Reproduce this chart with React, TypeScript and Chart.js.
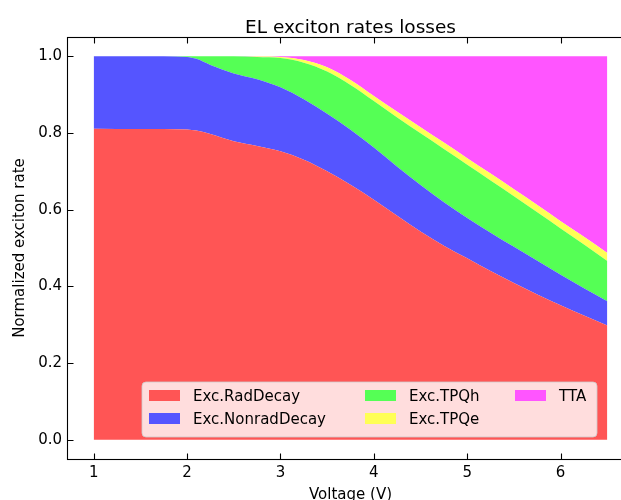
import React, { useEffect, useRef } from "react";
import { Chart, registerables } from "chart.js";

Chart.register(...registerables);

// ---- data ----
const voltage = [1, 1.5, 2, 2.1, 2.25, 2.5, 2.75, 3, 3.25, 3.5, 3.75, 4, 4.25, 4.5, 4.75, 5, 5.25, 5.5, 5.75, 6, 6.25, 6.5];
const radDecay = [0.811, 0.81, 0.809, 0.806, 0.797, 0.778, 0.766, 0.752, 0.73, 0.7, 0.665, 0.626, 0.584, 0.543, 0.506, 0.473, 0.44, 0.409, 0.379, 0.351, 0.324, 0.298];
const nonradDecay = [0.189, 0.19, 0.189, 0.187, 0.18, 0.177, 0.174, 0.167, 0.158, 0.15, 0.143, 0.136, 0.128, 0.121, 0.113, 0.105, 0.1, 0.094, 0.088, 0.079, 0.071, 0.063];
const tpqh = [0, 0, 0.002, 0.007, 0.023, 0.045, 0.058, 0.076, 0.095, 0.11, 0.117, 0.121, 0.128, 0.135, 0.139, 0.139, 0.136, 0.132, 0.126, 0.121, 0.114, 0.105];
const tpqe = [0, 0, 0, 0, 0, 0, 0.001, 0.003, 0.007, 0.011, 0.013, 0.013, 0.015, 0.016, 0.017, 0.017, 0.018, 0.018, 0.019, 0.019, 0.02, 0.021];
const tta = [0, 0, 0, 0, 0, 0, 0.001, 0.002, 0.01, 0.029, 0.062, 0.104, 0.145, 0.185, 0.225, 0.266, 0.306, 0.347, 0.388, 0.43, 0.471, 0.513];

const seriesNames = ["Exc.RadDecay", "Exc.NonradDecay", "Exc.TPQh", "Exc.TPQe", "TTA"];
const seriesColors = ["#ff5555", "#5555ff", "#55ff55", "#ffff55", "#ff55ff"];

const xTicks = [1, 2, 3, 4, 5, 6];
const xTickLabels = ["1", "2", "3", "4", "5", "6"];
const yTicks = [0, 0.2, 0.4, 0.6, 0.8, 1.0];
const yTickLabels = ["0.0", "0.2", "0.4", "0.6", "0.8", "1.0"];

const titleText = "EL exciton rates losses";
const xLabelText = "Voltage (V)";
const yLabelText = "Normalized exciton rate";

const FONT = "'DejaVu Sans', sans-serif";

const decorPlugin = {
  id: "decor",
  afterDraw(chart: any) {
    const { ctx, chartArea, scales } = chart;
    const { left, right, top, bottom } = chartArea;
    const xs = scales.x;
    const ys = scales.y;
    ctx.save();
    // spines
    ctx.strokeStyle = "#000";
    ctx.lineWidth = 1.1;
    ctx.strokeRect(left - 0.5, top + 0.5, right - left + 1, bottom - top);
    // inward ticks
    ctx.beginPath();
    xTicks.forEach((v) => {
      const px = Math.round(xs.getPixelForValue(v)) + 0.5;
      ctx.moveTo(px, bottom + 0.5);
      ctx.lineTo(px, bottom + 0.5 - 6);
      ctx.moveTo(px, top + 0.5);
      ctx.lineTo(px, top + 0.5 + 6);
    });
    yTicks.forEach((v) => {
      const py = Math.round(ys.getPixelForValue(v)) + 0.5;
      ctx.moveTo(left - 0.5, py);
      ctx.lineTo(left - 0.5 + 6, py);
      ctx.moveTo(right, py);
      ctx.lineTo(right - 6, py);
    });
    ctx.stroke();

    // title
    ctx.fillStyle = "#000";
    ctx.font = `18.5px ${FONT}`;
    ctx.textAlign = "center";
    ctx.textBaseline = "alphabetic";
    ctx.fillText(titleText, (left + right) / 2, 33);

    // x label (partly cut off by the bottom edge, as in the reference)
    ctx.font = `15px ${FONT}`;
    ctx.textBaseline = "top";
    ctx.fillText(xLabelText, (left + right) / 2, 488);

    // y label
    ctx.save();
    ctx.translate(20, (top + bottom) / 2);
    ctx.rotate(-Math.PI / 2);
    ctx.textBaseline = "middle";
    ctx.fillText(yLabelText, 0, 0);
    ctx.restore();

    // legend
    const bx = 142, by = 382, bw = 455, bh = 55, r = 4;
    ctx.beginPath();
    ctx.moveTo(bx + r, by);
    ctx.lineTo(bx + bw - r, by);
    ctx.quadraticCurveTo(bx + bw, by, bx + bw, by + r);
    ctx.lineTo(bx + bw, by + bh - r);
    ctx.quadraticCurveTo(bx + bw, by + bh, bx + bw - r, by + bh);
    ctx.lineTo(bx + r, by + bh);
    ctx.quadraticCurveTo(bx, by + bh, bx, by + bh - r);
    ctx.lineTo(bx, by + r);
    ctx.quadraticCurveTo(bx, by, bx + r, by);
    ctx.closePath();
    ctx.fillStyle = "rgba(255,255,255,0.8)";
    ctx.fill();
    ctx.strokeStyle = "rgba(204,204,204,0.8)";
    ctx.lineWidth = 1;
    ctx.stroke();

    const colSwatchX = [149, 365, 515];
    const colTextX = [193, 409, 559];
    const rowY = [396, 419];
    ctx.font = `15px ${FONT}`;
    ctx.textAlign = "left";
    ctx.textBaseline = "middle";
    seriesNames.forEach((name, i) => {
      const col = Math.floor(i / 2);
      const row = i % 2;
      ctx.fillStyle = seriesColors[i];
      ctx.fillRect(colSwatchX[col], rowY[row] - 6, 31, 11);
      ctx.fillStyle = "#000";
      ctx.fillText(name, colTextX[col], rowY[row] + 1);
    });
    ctx.restore();
  },
};

export default function App() {
  const canvasRef = useRef<HTMLCanvasElement | null>(null);

  useEffect(() => {
    const canvas = canvasRef.current;
    if (!canvas) return;
    const seriesData = [radDecay, nonradDecay, tpqh, tpqe, tta];
    const datasets = seriesData.map((vals, i) => ({
      label: seriesNames[i],
      data: voltage.map((v, j) => ({ x: v, y: vals[j] })),
      backgroundColor: seriesColors[i],
      borderColor: seriesColors[i],
      borderWidth: 0,
      pointRadius: 0,
      fill: i === 0 ? "origin" : "-1",
      cubicInterpolationMode: "monotone" as const,
    }));

    const chart = new Chart(canvas, {
      type: "line",
      data: { datasets },
      options: {
        animation: false,
        responsive: false,
        devicePixelRatio: 1,
        layout: { padding: { left: 0, top: 37, right: 27, bottom: 0 } },
        plugins: {
          legend: { display: false },
          title: { display: false },
          tooltip: { enabled: false },
        },
        scales: {
          x: {
            type: "linear",
            min: 0.725,
            max: 6.775,
            grid: { display: false, drawTicks: false },
            border: { display: false },
            afterBuildTicks: (scale: any) => {
              scale.ticks = xTicks.map((v) => ({ value: v }));
            },
            afterFit: (scale: any) => {
              scale.height = 41;
            },
            ticks: {
              padding: 5,
              color: "#000",
              font: { family: FONT, size: 15 },
              maxRotation: 0,
              autoSkip: false,
              callback: (_v: any, idx: number) => xTickLabels[idx],
            },
          },
          y: {
            type: "linear",
            stacked: true,
            min: -0.05,
            max: 1.05,
            grid: { display: false, drawTicks: false },
            border: { display: false },
            afterBuildTicks: (scale: any) => {
              scale.ticks = yTicks.map((v) => ({ value: v }));
            },
            afterFit: (scale: any) => {
              scale.width = 68;
            },
            ticks: {
              padding: 6,
              color: "#000",
              font: { family: FONT, size: 15 },
              autoSkip: false,
              callback: (_v: any, idx: number) => yTickLabels[idx],
            },
          },
        },
      },
      plugins: [decorPlugin],
    });
    return () => chart.destroy();
  }, []);

  return (
    <div style={{ position: "fixed", left: 0, top: 0, width: 621, height: 500, overflow: "hidden", background: "#fff" }}>
      <canvas ref={canvasRef} width={660} height={500} style={{ display: "block", width: 660, height: 500 }} />
    </div>
  );
}
